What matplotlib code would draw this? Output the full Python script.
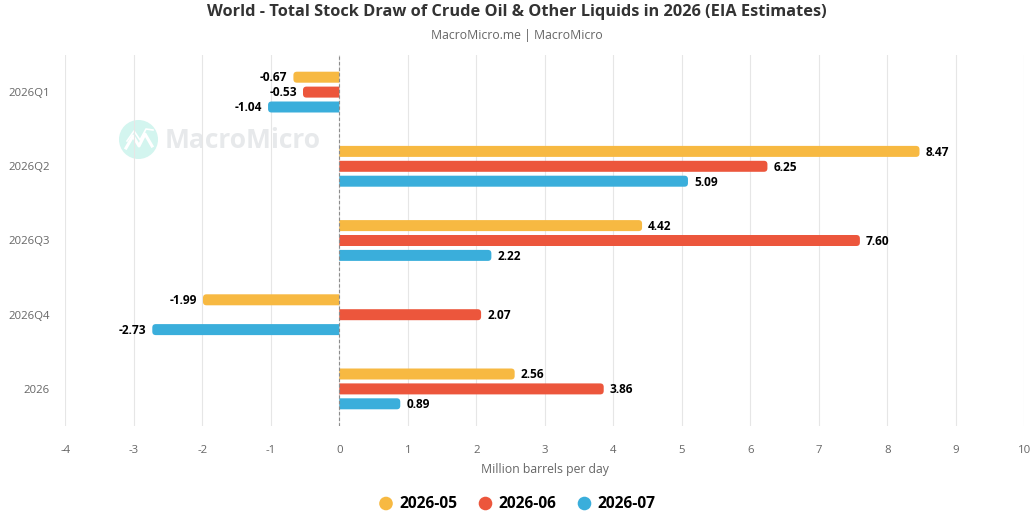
import matplotlib
matplotlib.use("Agg")
import matplotlib.pyplot as plt
from matplotlib.patches import Circle, PathPatch
from matplotlib.path import Path

plt.rcParams['font.family'] = ['Open Sans', 'DejaVu Sans']
plt.rcParams['axes.unicode_minus'] = False

categories = ['2026Q1', '2026Q2', '2026Q3', '2026Q4', '2026']
series_names = ['2026-05', '2026-06', '2026-07']
may_values = [-0.67, 8.47, 4.42, -1.99, 2.56]
jun_values = [-0.53, 6.25, 7.60, 2.07, 3.86]
jul_values = [-1.04, 5.09, 2.22, -2.73, 0.89]
x_ticks = list(range(-4, 11))

all_values = [may_values, jun_values, jul_values]
colors = ['#f7b942', '#ec563c', '#3aaedb']

W, H = 1031, 518
LEFT, RIGHT, TOP, BOTTOM = 65.3, 1024.3, 55, 426

fig = plt.figure(figsize=(W / 100, H / 100), dpi=100)
ax = fig.add_axes([LEFT / W, 1 - BOTTOM / H, (RIGHT - LEFT) / W, (BOTTOM - TOP) / H])
ax.set_xlim(-4, 10)
ax.set_ylim(len(categories) - 0.5, -0.5)
ax.patch.set_alpha(0)

px_x = 14 / (RIGHT - LEFT)              # data units per pixel, x
px_y = len(categories) / (BOTTOM - TOP)  # data units per pixel, y
bar_h = 11 * px_y
step = 14.9 * px_y
radius = 3.5


def rounded_bar(v, y, color):
    # square end on the zero line, rounded corners on the outer end
    s = 1 if v >= 0 else -1
    rx = s * min(radius * px_x, abs(v))
    ry = radius * px_y
    top, bot = y - bar_h / 2, y + bar_h / 2
    verts = [(0, top), (v - rx, top), (v, top), (v, top + ry),
             (v, bot - ry), (v, bot), (v - rx, bot), (0, bot), (0, top)]
    codes = [Path.MOVETO, Path.LINETO, Path.CURVE3, Path.CURVE3,
             Path.LINETO, Path.CURVE3, Path.CURVE3, Path.LINETO, Path.CLOSEPOLY]
    ax.add_patch(PathPatch(Path(verts, codes), fc=color, ec='none', zorder=3))


for i, (values, color) in enumerate(zip(all_values, colors)):
    offset = (i - 1) * step
    for j, v in enumerate(values):
        y = j + offset
        rounded_bar(v, y, color)
        label_x = v + (6 * px_x if v >= 0 else -6 * px_x)
        ax.text(label_x, y + 0.8 * px_y, f'{v:.2f}', ha='left' if v >= 0 else 'right', va='center',
                fontsize=8.6, fontweight='bold', color='black', zorder=4)

ax.set_xticks(x_ticks)
ax.set_yticks(range(len(categories)))
ax.set_yticklabels(categories)
ax.tick_params(axis='both', length=0, labelsize=8.2, labelcolor='#666666')
ax.tick_params(axis='x', pad=14)
ax.tick_params(axis='y', pad=11)
ax.set_xlabel('Million barrels per day', fontsize=8.8, color='#666666', labelpad=5)

ax.grid(axis='x', color='#e6e6e6', lw=0.8, zorder=0)
ax.axvline(0, color='#8c8c8c', lw=0.8, ls=(0, (3, 2)), zorder=5)
for spine in ax.spines.values():
    spine.set_visible(False)

# watermark
overlay = fig.add_axes([0, 0, 1, 1], zorder=-1)
overlay.set_xlim(0, W)
overlay.set_ylim(H, 0)
overlay.axis('off')
overlay.add_patch(Circle((138.5, 139.5), 19.5, fc='#d3f5ef', ec='none'))
overlay.plot([126, 133, 139, 145, 152], [148, 136, 146, 134, 146], color='white', lw=2.2)
overlay.plot([127, 134, 140, 146, 153], [141, 131, 140, 129, 130], color='white', lw=1.2)
overlay.text(165, 140.5, 'MacroMicro', fontsize=19, fontweight='bold', color='#e7e9eb',
             ha='left', va='center')

fig.text(517 / W, 1 - 12.5 / H, 'World - Total Stock Draw of Crude Oil & Other Liquids in 2026 (EIA Estimates)',
         ha='center', va='center', fontsize=11.8, fontweight='bold', color='#333333')
fig.text(517 / W, 1 - 36 / H, 'MacroMicro.me | MacroMicro', ha='center', va='center',
         fontsize=8.8, color='#666666')

# legend, laid out by hand to keep the large round keys
legend_dots = [386, 485.5, 584.5]
for name, color, cx in zip(series_names, colors, legend_dots):
    overlay.add_patch(Circle((cx, 503.5), 6.8, fc=color, ec='none'))
    overlay.text(cx + 13, 503.5, name, fontsize=11.2, fontweight='bold', color='black',
                 ha='left', va='center')

fig.savefig('out.png', dpi=100)
